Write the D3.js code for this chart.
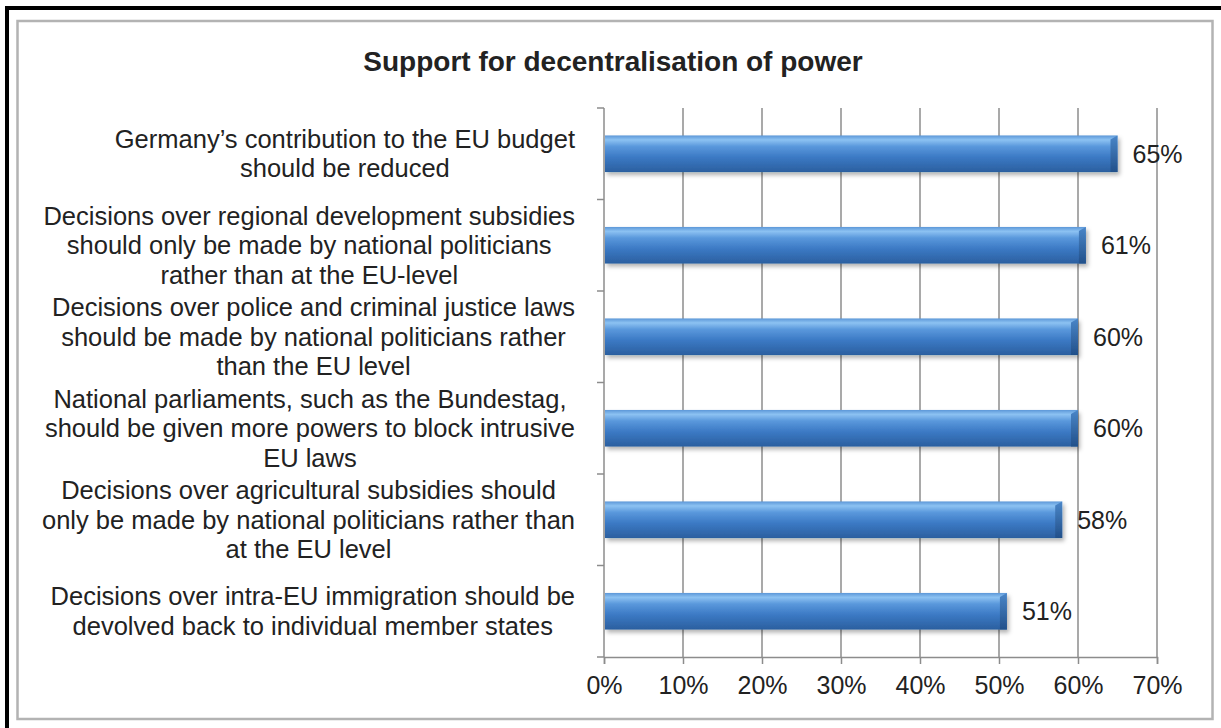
<!DOCTYPE html>
<html>
<head>
  <meta charset="utf-8">
  <title>Support for decentralisation of power</title>
  <script src="https://d3js.org/d3.v7.min.js"></script>
  <style>
    body { margin: 0; background: #fff; }
    text { font-family: "Liberation Sans", Arial, sans-serif; fill: #222; }
  </style>
</head>
<body>
<div id="chart"></div>
<script>
// data
var categories = [
  ["Germany\u2019s contribution to the EU budget", "should be reduced"],
  ["Decisions over regional development subsidies", "should only be made by national politicians", "rather than at the EU-level"],
  ["Decisions over police and criminal justice laws", "should be made by national politicians rather", "than the EU level"],
  ["National parliaments, such as the Bundestag,", "should be given more powers to block intrusive", "EU laws"],
  ["Decisions over agricultural subsidies should", "only be made by national politicians rather than", "at the EU level"],
  ["Decisions over intra-EU immigration should be", "devolved back to individual member states"]
];
var values = [65, 61, 60, 60, 58, 51];
var xTicks = [0, 10, 20, 30, 40, 50, 60, 70];
var title = "Support for decentralisation of power";

var W = 1221, H = 728;
var plotLeft = 604, plotRight = 1157, plotTop = 108, plotBottom = 657;

var svg = d3.select("#chart").append("svg")
  .attr("width", W).attr("height", H);

// frame (black outer edge, grey inner box)
svg.append("path")
  .attr("d", "M7,728 V8 H1221")
  .attr("fill", "none").attr("stroke", "#000").attr("stroke-width", 4);
svg.append("rect")
  .attr("x", 17.5).attr("y", 21).attr("width", 1195).attr("height", 698)
  .attr("fill", "none").attr("stroke", "#b3b3b3").attr("stroke-width", 2.5);

var defs = svg.append("defs");
var grad = defs.append("linearGradient").attr("id", "barGrad")
  .attr("x1", 0).attr("y1", 0).attr("x2", 0).attr("y2", 1);
grad.append("stop").attr("offset", "0%").attr("stop-color", "#5c97d8");
grad.append("stop").attr("offset", "12%").attr("stop-color", "#8cc2f2");
grad.append("stop").attr("offset", "30%").attr("stop-color", "#5a98dc");
grad.append("stop").attr("offset", "60%").attr("stop-color", "#3b79c4");
grad.append("stop").attr("offset", "100%").attr("stop-color", "#2b5f9f");

var capGrad = defs.append("linearGradient").attr("id", "capGrad")
  .attr("x1", 0).attr("y1", 0).attr("x2", 0).attr("y2", 1);
capGrad.append("stop").attr("offset", "0%").attr("stop-color", "#4a86c8");
capGrad.append("stop").attr("offset", "100%").attr("stop-color", "#22508a");

var shadow = defs.append("filter").attr("id", "shadow")
  .attr("x", "-5%").attr("y", "-20%").attr("width", "110%").attr("height", "160%");
shadow.append("feDropShadow").attr("dx", 2).attr("dy", 3)
  .attr("stdDeviation", 2).attr("flood-color", "#000").attr("flood-opacity", 0.3);

svg.append("text")
  .attr("x", 613).attr("y", 71)
  .attr("text-anchor", "middle")
  .style("font-weight", "bold").style("font-size", "28px")
  .text(title);

var x = d3.scaleLinear().domain([0, 70]).range([plotLeft, plotRight]);
var y = d3.scaleBand().domain(d3.range(categories.length)).range([plotTop, plotBottom])
  .paddingInner(0).paddingOuter(0);

// vertical gridlines
svg.append("g").selectAll("line")
  .data(xTicks.slice(1))
  .join("line")
  .attr("x1", function(d) { return x(d); }).attr("x2", function(d) { return x(d); })
  .attr("y1", plotTop).attr("y2", plotBottom)
  .attr("stroke", "#8c8c8c").attr("stroke-width", 1.5);

// x axis
var xAxis = svg.append("g")
  .attr("transform", "translate(0," + plotBottom + ")")
  .call(d3.axisBottom(x).tickValues(xTicks).tickSize(7).tickPadding(12)
    .tickFormat(function(d) { return d + "%"; }));
xAxis.select(".domain").attr("stroke", "#8c8c8c").attr("stroke-width", 1.5);
xAxis.selectAll(".tick line").attr("stroke", "#8c8c8c").attr("stroke-width", 1.5);
xAxis.selectAll("text").style("font-size", "25px").attr("fill", "#222")
  .style("font-family", "'Liberation Sans', Arial, sans-serif");

// y axis: line with ticks at category boundaries
var bounds = d3.range(categories.length + 1).map(function(i) { return plotTop + i * y.step(); });
svg.append("line")
  .attr("x1", plotLeft).attr("x2", plotLeft).attr("y1", plotTop).attr("y2", plotBottom)
  .attr("stroke", "#8c8c8c").attr("stroke-width", 1.5);
svg.append("g").selectAll("line")
  .data(bounds)
  .join("line")
  .attr("x1", plotLeft - 7).attr("x2", plotLeft)
  .attr("y1", function(d) { return d; }).attr("y2", function(d) { return d; })
  .attr("stroke", "#8c8c8c").attr("stroke-width", 1.5);

// bars
var barH = y.step() * 0.4;
var bars = svg.append("g").selectAll("g")
  .data(values)
  .join("g")
  .attr("filter", "url(#shadow)");
bars.append("rect")
  .attr("x", x(0) + 1)
  .attr("y", function(d, i) { return y(i) + (y.step() - barH) / 2; })
  .attr("width", function(d) { return x(d) - x(0) - 1; })
  .attr("height", barH)
  .attr("fill", "url(#barGrad)");
bars.append("path")
  .attr("d", function(d, i) {
    var x1 = x(d), y0 = y(i) + (y.step() - barH) / 2;
    return "M" + (x1 - 7) + "," + (y0 + 4) + " L" + x1 + "," + y0 +
      " L" + x1 + "," + (y0 + barH) + " L" + (x1 - 7) + "," + (y0 + barH) + "Z";
  })
  .attr("fill", "url(#capGrad)");

// value labels
svg.append("g").selectAll("text")
  .data(values)
  .join("text")
  .attr("x", function(d) { return x(d) + 15; })
  .attr("y", function(d, i) { return y(i) + y.step() / 2; })
  .attr("dy", "0.35em")
  .style("font-size", "25px")
  .text(function(d) { return d + "%"; });

// category labels: block right-aligned at ~575, lines centred in the block
var lineH = 29.5;
categories.forEach(function(lines, i) {
  var g = svg.append("g");
  var cy = y(i) + y.step() / 2;
  var texts = g.selectAll("text").data(lines).join("text")
    .attr("y", function(d, k) { return cy + (k - (lines.length - 1) / 2) * lineH; })
    .attr("dy", "0.35em")
    .attr("text-anchor", "middle")
    .style("font-size", "25.5px")
    .text(function(d) { return d; });
  var maxW = d3.max(texts.nodes(), function(n) { return n.getComputedTextLength(); });
  texts.attr("x", 575 - maxW / 2);
});
</script>
</body>
</html>
